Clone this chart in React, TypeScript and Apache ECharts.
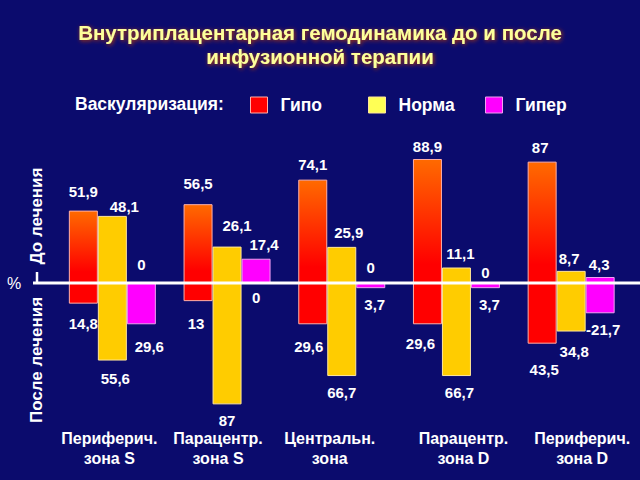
import React, { useEffect, useRef } from 'react';
import * as echarts from 'echarts';

// ---- data ----
const categories = [
  'Периферич.\nзона S',
  'Парацентр.\nзона S',
  'Центральн.\nзона',
  'Парацентр.\nзона D',
  'Периферич.\nзона D',
];
const seriesNames = ['Гипо', 'Норма', 'Гипер'];
const beforeHypo = [51.9, 56.5, 74.1, 88.9, 87];
const beforeNorm = [48.1, 26.1, 25.9, 11.1, 8.7];
const beforeHyper = [0, 17.4, 0, 0, 4.3];
const afterHypo = [14.8, 13, 29.6, 29.6, 43.5];
const afterNorm = [55.6, 87, 66.7, 66.7, 34.8];
const afterHyper = [29.6, 0, 3.7, 3.7, 21.7];
const titleText = 'Внутриплацентарная гемодинамика до и после\nинфузионной терапии';
const legendTitle = 'Васкуляризация:';
const beforeLabel = 'До лечения';
const afterLabel = 'После лечения';
const unitLabel = '%';

// ---- layout (label placement, not data) ----
const labelBeforeDx = [[0, 0, 0, 0, -2], [12, 10, 7, 4, -2], [0, 8, 0, 0, -1]];
const labelBeforeGap = [[19, 21, 15, 12, 14], [9, 21, 14, 14, 12], [18, 14, 15, 10, 13]];
const labelAfterDx = [[0, -2, -4, -7, 2], [3, 0, 0, 3, 3], [8, 0, 4, 4, 3]];
const labelAfterGap = [[20, 22, 22, 19, 26], [18, 16, 16, 16, 20], [22, 14, 16, 16, 16]];
const labelLeader = [[false, false, false, false, false], [false, false, false, false, false], [false, false, false, false, true]];
const catLabelDx = [-3, -9, -12, 7, 11];
const legendLefts = [250, 368, 485];

const FONT = '"Liberation Sans", Arial, sans-serif';
const BG = '#0b0b6d';

const fmt = (v: number) => String(Math.abs(v)).replace('.', ',');

export default function App() {
  const ref = useRef<HTMLDivElement>(null);
  useEffect(() => {
    const chart = echarts.init(ref.current!, null, { renderer: 'svg' });
    const before = [beforeHypo, beforeNorm, beforeHyper];
    const after = [afterHypo, afterNorm, afterHyper];
    const stacks = ['hypo', 'norm', 'hyper'];
    const beforeColors: any[] = [
      new echarts.graphic.LinearGradient(0, 0, 0, 1, [
        { offset: 0, color: '#ff6a00' },
        { offset: 0.85, color: '#ff0000' },
        { offset: 1, color: '#ff0000' },
      ]),
      '#ffcc00',
      '#ff00ff',
    ];
    const afterColors = ['#ff0000', '#ffcc00', '#ff00ff'];
    const borderColors = ['#ffb0a8', '#ffe69a', '#f0a0f0'];
    const legendColors = ['#ff0000', '#ffff55', '#ff00ff'];

    const labelBase = {
      show: true,
      distance: 0,
      color: '#ffffff',
      fontFamily: FONT,
      fontWeight: 'bold',
      fontSize: 15,
    };

    const series: any[] = [];
    for (let k = 0; k < 3; k++) {
      series.push({
        name: seriesNames[k],
        type: 'bar',
        stack: stacks[k],
        barWidth: 29,
        barGap: '0%',
        itemStyle: { color: beforeColors[k], borderColor: borderColors[k], borderWidth: 1 },
        label: {
          ...labelBase,
          position: 'top',
          formatter: (p: any) => fmt(p.value),
        },
        data: before[k].map((v, i) => ({
          value: v,
          label: { offset: [labelBeforeDx[k][i], -(labelBeforeGap[k][i] - 7.5)] },
        })),
      });
    }
    for (let k = 0; k < 3; k++) {
      series.push({
        name: seriesNames[k],
        type: 'bar',
        stack: stacks[k],
        stackStrategy: 'negative',
        barWidth: 29,
        barGap: '0%',
        itemStyle: { color: afterColors[k], borderColor: borderColors[k], borderWidth: 1 },
        label: {
          ...labelBase,
          position: 'bottom',
          formatter: (p: any) => (labelLeader[k][p.dataIndex] ? '-' : '') + fmt(p.value),
        },
        data: after[k].map((v, i) => ({
          value: -v,
          label: { offset: [labelAfterDx[k][i], labelAfterGap[k][i] - 7.5] },
        })),
      });
    }

    const legends = seriesNames.map((n, k) => ({
      left: legendLefts[k],
      top: 96,
      padding: 0,
      itemWidth: 17,
      itemHeight: 16,
      icon: 'rect',
      selectedMode: false,
      textStyle: {
        color: '#ffffff',
        fontFamily: FONT,
        fontWeight: 'bold',
        fontSize: 17.5,
        padding: [0, 0, 0, 8],
      },
      data: [
        {
          name: n,
          itemStyle: { color: legendColors[k], borderColor: borderColors[k], borderWidth: 1 },
        },
      ],
    }));

    chart.setOption({
      animation: false,
      backgroundColor: BG,
      title: {
        text: titleText,
        left: 'center',
        top: 20,
        padding: 0,
        textStyle: {
          color: '#ffff9a',
          fontFamily: FONT,
          fontWeight: 'bold',
          fontSize: 20.5,
          lineHeight: 24,
          textShadowColor: '#c03a00',
          textShadowBlur: 4,
          textShadowOffsetX: 1,
          textShadowOffsetY: 1,
        },
      },
      legend: legends,
      grid: { left: 55, right: 11.5, top: 143.5, bottom: 57.5 },
      xAxis: {
        type: 'category',
        data: categories,
        axisLine: { show: false, onZero: false },
        axisTick: { show: false },
        axisLabel: { show: false },
        splitLine: { show: false },
      },
      yAxis: {
        type: 'value',
        min: -100,
        max: 100,
        show: false,
        splitLine: { show: false },
      },
      series,
    });

    const zeroY = chart.convertToPixel({ yAxisIndex: 0 }, 0) as number;
    const catX = categories.map((_, i) => chart.convertToPixel({ xAxisIndex: 0 }, i) as number);
    const graphic: any[] = [
      {
        type: 'line',
        z: 100,
        shape: { x1: 33, y1: zeroY, x2: 640, y2: zeroY },
        style: { stroke: '#ffffff', lineWidth: 3 },
      },
      {
        type: 'line',
        z: 100,
        shape: { x1: 37, y1: zeroY - 11, x2: 37, y2: zeroY },
        style: { stroke: '#ffffff', lineWidth: 2.5 },
      },
      {
        type: 'text',
        x: 14,
        y: zeroY,
        style: {
          text: unitLabel,
          fill: '#ffffff',
          font: `16px ${FONT}`,
          align: 'center',
          verticalAlign: 'middle',
        },
      },
      {
        type: 'text',
        x: 36,
        y: zeroY - 67,
        rotation: Math.PI / 2,
        style: {
          text: beforeLabel,
          fill: '#ffffff',
          font: `bold 17px ${FONT}`,
          align: 'center',
          verticalAlign: 'middle',
        },
      },
      {
        type: 'text',
        x: 36,
        y: zeroY + 77,
        rotation: Math.PI / 2,
        style: {
          text: afterLabel,
          fill: '#ffffff',
          font: `bold 17px ${FONT}`,
          align: 'center',
          verticalAlign: 'middle',
        },
      },
      {
        type: 'text',
        x: 75,
        y: 104,
        style: {
          text: legendTitle,
          fill: '#ffffff',
          font: `bold 17.5px ${FONT}`,
          align: 'left',
          verticalAlign: 'middle',
        },
      },
      ...categories.map((c, i) => ({
        type: 'text',
        x: catX[i] + catLabelDx[i],
        y: 428,
        style: {
          text: c,
          fill: '#ffffff',
          font: `bold 16px ${FONT}`,
          lineHeight: 20,
          align: 'center',
          verticalAlign: 'top',
        },
      })),
    ];
    chart.setOption({ graphic });

    return () => chart.dispose();
  }, []);
  return (
    <div
      ref={ref}
      style={{ position: 'fixed', left: 0, top: 0, width: 640, height: 480, background: BG }}
    />
  );
}
